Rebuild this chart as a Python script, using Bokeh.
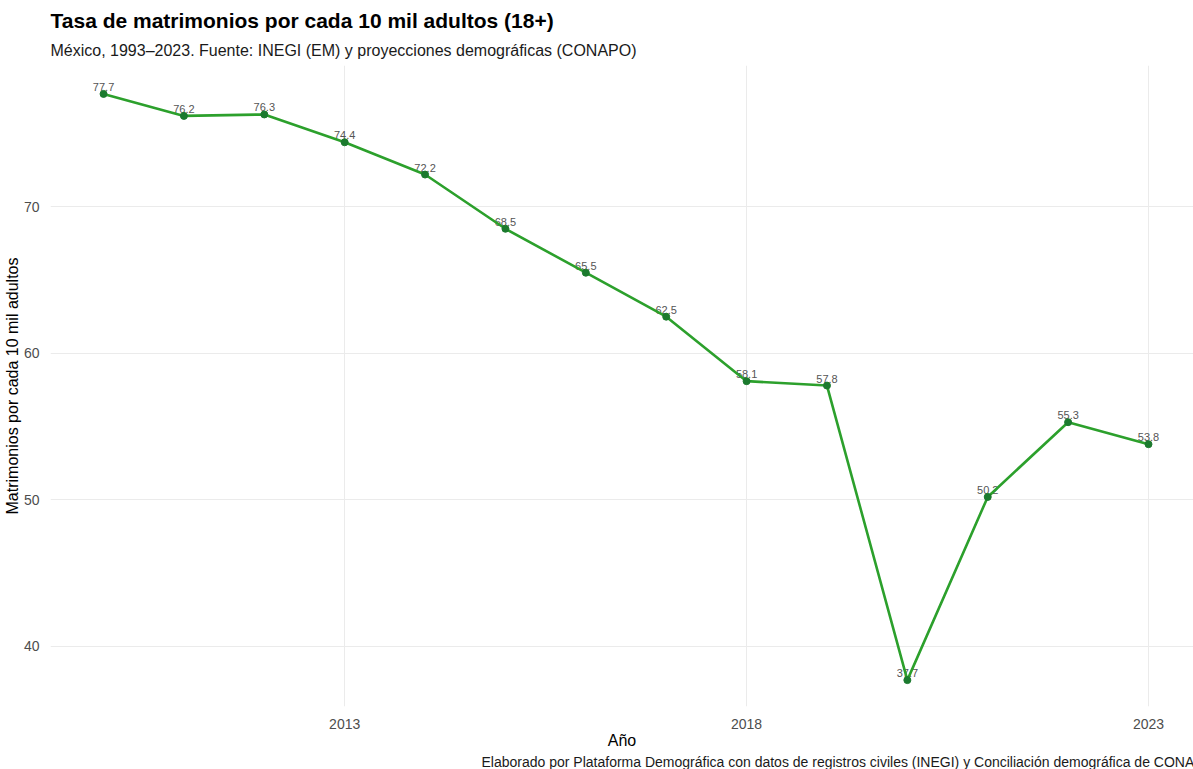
from bokeh.plotting import figure
from bokeh.models import Range1d, FixedTicker, Title, ColumnDataSource
from bokeh.core.properties import value
from bokeh.embed import file_html
from bokeh.resources import INLINE

years = [2010, 2011, 2012, 2013, 2014, 2015, 2016, 2017, 2018, 2019, 2020, 2021, 2022, 2023]
rates = [77.7, 76.2, 76.3, 74.4, 72.2, 68.5, 65.5, 62.5, 58.1, 57.8, 37.7, 50.2, 55.3, 53.8]
labels = [f"{v:.1f}" for v in rates]
x_ticks = [2013, 2018, 2023]
y_ticks = [40, 50, 60, 70]

FONT = "Liberation Sans"

src = ColumnDataSource(dict(x=years, y=rates, lab=labels))

p = figure(width=1193, height=769, output_backend="svg", toolbar_location=None,
           x_range=Range1d(2009.34, 2023.56), y_range=Range1d(35.9, 79.64),
           min_border_left=50, min_border_right=0, min_border_top=65, min_border_bottom=10)
p.outline_line_color = None
p.background_fill_color = "white"
p.border_fill_color = "white"

sub = Title(text="México, 1993–2023. Fuente: INEGI (EM) y proyecciones demográficas (CONAPO)",
            text_font=FONT, text_font_size="16px", text_font_style="normal",
            text_color="#1a1a1a", align="left", standoff=14)
p.add_layout(sub, "above")
tit = Title(text="Tasa de matrimonios por cada 10 mil adultos (18+)",
            text_font=FONT, text_font_size="21px", text_font_style="bold",
            text_color="black", align="left", standoff=2)
p.add_layout(tit, "above")

cap = Title(text="Elaborado por Plataforma Demográfica con datos de registros civiles (INEGI) y Conciliación demográfica de CONAPO",
            text_font=FONT, text_font_size="14px", text_font_style="normal",
            text_color="#1a1a1a", align="left", offset=431, standoff=0)
p.add_layout(cap, "below")

for ax in (p.xaxis[0], p.yaxis[0]):
    ax.axis_line_color = None
    ax.major_tick_line_color = None
    ax.minor_tick_line_color = None
    ax.major_label_text_font = FONT
    ax.major_label_text_font_size = "14px"
    ax.major_label_text_color = "#4d4d4d"
    ax.axis_label_text_font = FONT
    ax.axis_label_text_font_size = "16px"
    ax.axis_label_text_font_style = "normal"
    ax.axis_label_text_color = "black"

p.xaxis.ticker = FixedTicker(ticks=x_ticks)
p.yaxis.ticker = FixedTicker(ticks=y_ticks)
p.xaxis.axis_label = "Año"
p.yaxis.axis_label = "Matrimonios por cada 10 mil adultos"
p.xaxis.major_label_standoff = 6
p.yaxis.major_label_standoff = 5
p.xaxis.axis_label_standoff = 0
p.yaxis.axis_label_standoff = 0

p.xgrid.ticker = FixedTicker(ticks=x_ticks)
p.ygrid.ticker = FixedTicker(ticks=y_ticks)
p.grid.grid_line_color = "#ebebeb"
p.grid.grid_line_width = 1

p.text(x="x", y="y", text="lab", source=src, text_font=value(FONT), text_font_size="11px",
       text_color="#555555", text_align="center", text_baseline="bottom", y_offset=-3)
p.line(x="x", y="y", source=src, line_color="#2ca02c", line_width=2.6)
p.scatter(x="x", y="y", source=src, size=7, fill_color="#1b7a2e", line_color="#1b7a2e")

open("out.html", "w").write(file_html(p, INLINE))
